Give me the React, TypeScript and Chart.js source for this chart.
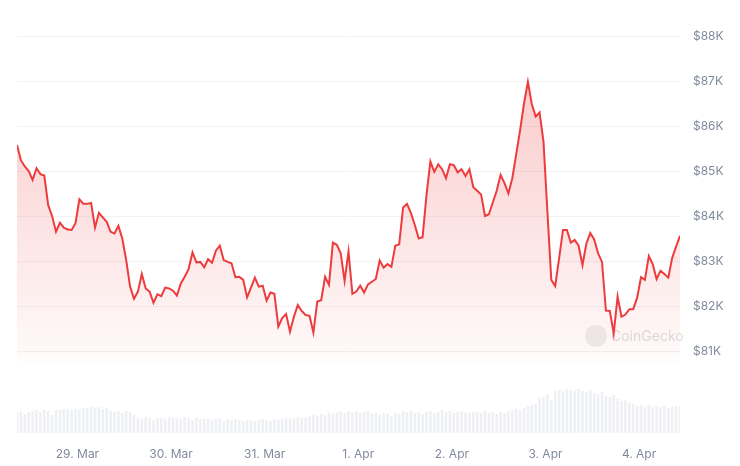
import React, { useEffect, useRef } from "react";
import { Chart, registerables } from "chart.js";

Chart.register(...registerables);

// Hourly BTC price (thousands USD), first point ~15.5 h before 29 Mar 00:00
const prices: number[] = [
  85.58, 85.24, 85.1, 85.0, 84.8, 85.06, 84.93, 84.9, 84.24, 84.0,
  83.65, 83.85, 83.74, 83.7, 83.69, 83.84, 84.37, 84.27, 84.27, 84.29,
  83.74, 84.07, 83.97, 83.87, 83.65, 83.61, 83.78, 83.5, 83.02, 82.43,
  82.16, 82.32, 82.71, 82.39, 82.32, 82.07, 82.26, 82.22, 82.41, 82.39,
  82.34, 82.23, 82.5, 82.65, 82.82, 83.19, 82.97, 82.98, 82.86, 83.04,
  82.96, 83.23, 83.34, 83.02, 82.98, 82.95, 82.64, 82.65, 82.58,
  82.19, 82.41, 82.63, 82.43, 82.45, 82.12, 82.3, 82.27, 81.54, 81.73,
  81.82, 81.43, 81.76, 82.02, 81.89, 81.8, 81.78, 81.41, 82.1, 82.13,
  82.65, 82.47, 83.41, 83.36, 83.17, 82.56, 83.21,
  82.27, 82.32, 82.45, 82.3, 82.48, 82.54, 82.6, 83.01, 82.85, 82.93,
  82.87, 83.34, 83.37, 84.19, 84.27, 84.07, 83.8, 83.5, 83.53, 84.47,
  85.21, 84.98, 85.15, 85.04, 84.84, 85.15, 85.13, 84.97,
  85.04, 84.89, 85.04, 84.64, 84.56, 84.48, 84.0, 84.04, 84.3, 84.56,
  84.91, 84.73, 84.5, 84.84, 85.37, 85.91, 86.5, 86.98, 86.49, 86.21,
  86.3, 85.65, 84.1, 82.58, 82.44, 83.06, 83.69, 83.69,
  83.41, 83.47, 83.34, 82.91, 83.39, 83.62, 83.48, 83.17, 82.98, 81.9,
  81.89, 81.39, 82.21, 81.76, 81.81, 81.93, 81.93, 82.18, 82.64, 82.58,
  83.11, 82.93, 82.6, 82.78, 82.71, 82.63, 83.07, 83.32, 83.56,
];

// Hourly volume (billions USD, approximate)
const volumes: number[] = [
  2.0, 2.1, 1.9, 2.1,
  2.2, 2.3, 2.1, 2.3, 2.2, 1.8, 2.3,
  2.3, 2.4, 2.4, 2.3, 2.4, 2.3,
  2.5, 2.5, 2.6, 2.5, 2.6, 2.4, 2.5,
  2.2, 2.1, 2.2, 2.0, 2.2, 2.1, 1.8,
  1.5, 1.4, 1.6, 1.5, 1.3, 1.5, 1.5, 1.4, 1.6, 1.5, 1.5, 1.4, 1.6, 1.5, 1.3, 1.5, 1.4,
  1.4, 1.5, 1.3, 1.4, 1.5, 1.2, 1.4, 1.3, 1.4, 1.3, 1.2, 1.3, 1.3, 1.2, 1.3, 1.4, 1.3, 1.2, 1.4, 1.3, 1.4, 1.5, 1.4, 1.5, 1.6, 1.5,
  1.6, 1.7, 1.8, 1.7, 1.9, 1.8, 2.0, 1.9,
  2.1, 2.2, 2.0, 2.2, 2.1, 2.2, 2.0, 2.1, 2.2, 2.0,
  2.0, 1.8, 2.0, 1.9, 1.7, 2.0, 1.9,
  2.2, 2.1, 2.2, 2.0, 2.1, 1.9, 2.1, 2.2, 2.0, 2.1, 2.3, 2.1, 2.2, 2.0, 2.1, 2.2, 2.1, 2.0, 2.1,
  2.1, 2.0, 2.2, 2.0, 2.1, 1.9, 2.1, 2.0, 2.2, 2.3, 2.4, 2.3, 2.5,
  2.7, 2.8, 2.9, 3.5, 3.6, 3.9, 3.3,
  4.2, 4.3, 4.2, 4.4, 4.3, 4.2, 4.4, 4.2, 4.1, 4.3, 4.0, 3.9, 4.1, 3.7,
  3.6, 3.8, 3.4, 3.2, 3.3, 3.0,
  2.9, 2.7, 2.8, 2.6, 2.8, 2.6, 2.7, 2.6, 2.7, 2.5, 2.6, 2.7, 2.7,
];

const dayLabels: string[] = ["29. Mar", "30. Mar", "31. Mar", "1. Apr", "2. Apr", "3. Apr", "4. Apr"];
const hoursToFirstDay = 15.5;
const priceTicks: number[] = [81, 82, 83, 84, 85, 86, 87, 88];

const LINE = "#ee3c3e";
const TICK = "#808a9d";

export default function App() {
  const ref = useRef<HTMLCanvasElement | null>(null);

  useEffect(() => {
    if (!ref.current) return;
    const dayTickValues = dayLabels.map((_, i) => hoursToFirstDay + 24 * i);

    const watermark = {
      id: "watermark",
      beforeDatasetsDraw(chart: any) {
        const c = chart.ctx;
        c.save();
        c.fillStyle = "rgba(205,205,205,0.35)";
        c.beginPath();
        c.arc(596, 336, 11, 0, Math.PI * 2);
        c.fill();
        c.fillStyle = "rgba(190,190,190,0.5)";
        c.font = "14px Inter, 'Open Sans', sans-serif";
        c.textBaseline = "middle";
        c.textAlign = "left";
        c.fillText("CoinGecko", 611, 337);
        c.restore();
      },
    };

    const chart = new Chart(ref.current, {
      type: "line",
      data: {
        datasets: [
          {
            type: "line",
            data: prices.map((p, i) => ({ x: i, y: p })),
            borderColor: LINE,
            borderWidth: 2,
            pointRadius: 0,
            tension: 0,
            yAxisID: "y",
            order: 1,
            fill: "start",
            backgroundColor: (ctx: any) => {
              const ch = ctx.chart;
              const area = ch.chartArea;
              if (!area) return "rgba(236,59,63,0.1)";
              const g = ch.ctx.createLinearGradient(0, area.top, 0, area.bottom);
              g.addColorStop(0, "rgba(238,60,62,0.30)");
              g.addColorStop(0.78, "rgba(238,60,62,0.04)");
              g.addColorStop(0.83, "rgba(238,60,62,0)");
              g.addColorStop(1, "rgba(238,60,62,0)");
              return g;
            },
          } as any,
          {
            type: "bar",
            data: volumes.map((v, i) => ({ x: i, y: v })),
            backgroundColor: "#eef0f3",
            yAxisID: "vol",
            order: 2,
            barPercentage: 0.65,
            categoryPercentage: 1,
          } as any,
        ],
      },
      options: {
        animation: false,
        responsive: false,
        layout: { padding: { left: 17, top: 36, right: 0, bottom: 0 } },
        plugins: { legend: { display: false }, tooltip: { enabled: false } },
        scales: {
          x: {
            type: "linear",
            min: 0,
            max: prices.length - 1,
            offset: false,
            grid: { display: false },
            border: { display: false },
            afterBuildTicks: (s: any) => {
              s.ticks = dayTickValues.map((v) => ({ value: v }));
            },
            afterFit: (s: any) => {
              s.height = 33;
            },
            ticks: {
              color: TICK,
              font: { family: "Inter, 'Open Sans', sans-serif", size: 12 },
              padding: 6,
              maxRotation: 0,
              autoSkip: false,
              callback: (v: any) => {
                const idx = dayTickValues.indexOf(Number(v));
                return idx >= 0 ? dayLabels[idx] : "";
              },
            },
          },
          y: {
            position: "right",
            min: 88 - 397 / 45,
            max: 88,
            grid: { color: "#f1f2f4", drawTicks: false, lineWidth: 1 },
            border: { display: false },
            afterBuildTicks: (s: any) => {
              s.ticks = priceTicks.map((v) => ({ value: v }));
            },
            afterFit: (s: any) => {
              s.width = 60;
            },
            ticks: {
              color: TICK,
              font: { family: "Inter, 'Open Sans', sans-serif", size: 12 },
              padding: 13,
              callback: (v: any) => `$${v}K`,
            },
          },
          vol: {
            display: false,
            min: 0,
            max: 39.7,
          },
        },
      } as any,
      plugins: [watermark],
    });
    return () => chart.destroy();
  }, []);

  return (
    <div style={{ position: "fixed", left: 0, top: 0, width: 740, height: 466, background: "#fff" }}>
      <canvas ref={ref} width={740} height={466} />
    </div>
  );
}
